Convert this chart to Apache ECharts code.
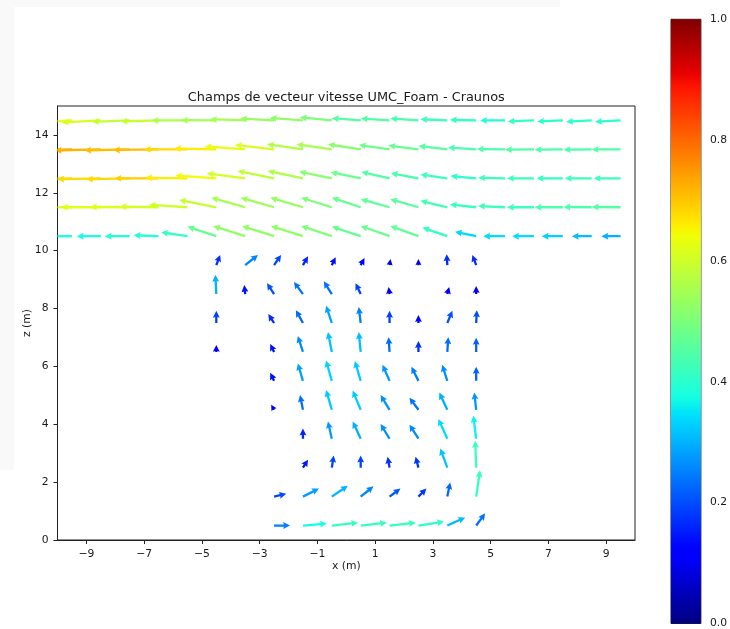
<!DOCTYPE html>
<html>
<head>
<meta charset="utf-8">
<script src="https://cdn.jsdelivr.net/npm/echarts@6/dist/echarts.min.js"></script>
<style>html,body{margin:0;padding:0;background:#fff;}#c{width:730px;height:629px;}</style>
</head>
<body>
<div id="c"></div>
<script>
// ---- tick labels ----
const xTicks = [-9, -7, -5, -3, -1, 1, 3, 5, 7, 9];
const zTicks = [0, 2, 4, 6, 8, 10, 12, 14];
const cbTicks = [0, 0.2, 0.4, 0.6, 0.8, 1.0];

// ---- upper region grid (x columns, z rows) ----
const topX = [-9.5,-8.5,-7.5,-6.5,-5.5,-4.5,-3.5,-2.5,-1.5,-0.5,0.5,1.5,2.5,3.5,4.5,5.5,6.5,7.5,8.5,9.5];
const topZ = [14.5, 13.5, 12.5, 11.5, 10.5];
const u145 = [-0.63,-0.61,-0.59,-0.59,-0.56,-0.55,-0.55,-0.53,-0.52,-0.50,-0.45,-0.45,-0.44,-0.42,-0.41,-0.39,-0.41,-0.40,-0.40,-0.40];
const v145 = [-0.03,-0.03,-0.02,-0.015,0,0.005,0.02,0.03,0.04,0.05,0.035,0.03,0.03,0.02,0.01,0,-0.015,-0.015,-0.02,-0.02];
const u135 = [-0.73,-0.72,-0.71,-0.71,-0.68,-0.66,-0.63,-0.61,-0.56,-0.55,-0.51,-0.48,-0.47,-0.45,-0.44,-0.44,-0.45,-0.44,-0.44,-0.45];
const v135 = [-0.015,-0.015,-0.015,-0.01,0,0.015,0.045,0.07,0.08,0.08,0.08,0.07,0.06,0.055,0.03,0.005,-0.005,-0.005,-0.005,0];
const u125 = [-0.68,-0.68,-0.68,-0.69,-0.66,-0.64,-0.60,-0.57,-0.55,-0.51,-0.47,-0.44,-0.43,-0.42,-0.40,-0.42,-0.42,-0.41,-0.42,-0.42];
const v125 = [-0.015,-0.015,-0.015,0,0.01,0.045,0.08,0.115,0.115,0.105,0.095,0.10,0.08,0.06,0.035,0.01,0,0,0,0];
const u115 = [-0.62,-0.62,-0.62,-0.61,-0.60,-0.58,-0.53,-0.52,-0.51,-0.48,-0.45,-0.45,-0.44,-0.42,-0.41,-0.42,-0.42,-0.44,-0.44,-0.45];
const v115 = [0,0,0.005,0.01,0.04,0.115,0.15,0.15,0.15,0.15,0.15,0.125,0.125,0.10,0.045,0.02,0,0,0.005,0.005];
const u105 = [-0.375,-0.375,-0.39,-0.39,-0.41,-0.45,-0.50,-0.50,-0.50,-0.48,-0.45,-0.45,-0.44,-0.39,-0.33,-0.34,-0.34,-0.33,-0.31,-0.30];
const v105 = [0,0,0,0.015,0.06,0.15,0.16,0.16,0.16,0.16,0.15,0.16,0.16,0.135,0.07,0,0,0,0,0];
const topU = [u145, u135, u125, u115, u105];
const topV = [v145, v135, v125, v115, v105];

// ---- lower region grid ----
const lowX = [-4.5,-3.5,-2.5,-1.5,-0.5,0.5,1.5,2.5,3.5,4.5];
const lowZ = [9.5, 8.5, 7.5, 6.5, 5.5, 4.5, 3.5, 2.5, 1.5, 0.5];
const u95 = [0.06,0.20,0.11,0.08,0.06,0.06,0.015,0,-0.01,-0.06];
const v95 = [0.16,0.16,0.16,0.14,0.125,0.11,0.095,0.095,0.17,0.16];
const u85 = [-0.015,-0.015,-0.11,-0.14,-0.125,-0.08,-0.015,null,0.03,0];
const v85 = [0.30,0.14,0.17,0.19,0.20,0.17,0.11,null,0.11,0.125];
const u75 = [0,null,-0.09,-0.11,-0.09,-0.03,0,0,0.08,0.01];
const v75 = [0.19,null,0.14,0.20,0.27,0.25,0.19,0.125,0.19,0.20];
const u65 = [0,null,-0.06,-0.08,-0.06,-0.03,-0.015,0,0.015,0];
const v65 = [0.11,null,0.125,0.25,0.31,0.31,0.23,0.17,0.23,0.22];
const u55 = [null,null,-0.06,-0.08,-0.09,-0.09,-0.11,-0.11,-0.08,0];
const v55 = [null,null,0.125,0.27,0.32,0.31,0.25,0.22,0.25,0.22];
const u45 = [null,null,-0.045,-0.045,-0.09,-0.125,-0.14,-0.14,-0.125,-0.03];
const v45 = [null,null,0.08,0.23,0.31,0.30,0.23,0.19,0.27,0.27];
const u35 = [null,null,null,0,-0.06,-0.125,-0.14,-0.14,-0.14,-0.045];
const v35 = [null,null,null,0.16,0.27,0.27,0.23,0.22,0.31,0.36];
const u25 = [null,null,null,0.08,0.03,0,-0.03,-0.045,-0.11,-0.015];
const v25 = [null,null,null,0.125,0.19,0.19,0.17,0.17,0.30,0.42];
const u15 = [null,null,0.19,0.25,0.25,0.20,0.17,0.125,0.045,0.06];
const v15 = [null,null,0.045,0.125,0.17,0.16,0.125,0.125,0.22,0.41];
const u05 = [null,null,0.25,0.375,0.41,0.41,0.41,0.40,0.28,0.14];
const v05 = [null,null,0,0.03,0.045,0.045,0.045,0.06,0.125,0.19];
const lowU = [u95, u85, u75, u65, u55, u45, u35, u25, u15, u05];
const lowV = [v95, v85, v75, v65, v55, v45, v35, v25, v15, v05];

// ---- jet colormap ----
function interp(pts, t) {
  for (let i = 1; i < pts.length; i++) {
    if (t <= pts[i][0]) {
      const a = pts[i-1], b = pts[i];
      return a[1] + (b[1]-a[1]) * (t - a[0]) / (b[0]-a[0]);
    }
  }
  return pts[pts.length-1][1];
}
function jet(t) {
  t = Math.max(0, Math.min(1, t));
  const r = interp([[0,0],[0.35,0],[0.66,1],[0.89,1],[1,0.5]], t);
  const g = interp([[0,0],[0.125,0],[0.375,1],[0.64,1],[0.91,0],[1,0]], t);
  const b = interp([[0,0.5],[0.11,1],[0.34,1],[0.65,0],[1,0]], t);
  return 'rgb(' + Math.round(r*255) + ',' + Math.round(g*255) + ',' + Math.round(b*255) + ')';
}

// ---- build arrow data ----
const arrows = [];
function addGrid(xs, zs, U, V) {
  zs.forEach((z, i) => {
    xs.forEach((x, j) => {
      const u = U[i][j], v = V[i][j];
      if (u === null || v === null) return;
      arrows.push([x, z, u, v, Math.hypot(u, v)]);
    });
  });
}
addGrid(topX, topZ, topU, topV);
addGrid(lowX, lowZ, lowU, lowV);

// quiver style (pixels)
const K = 64;          // px per m/s
const SW = 2.3, HW = 6.9, HL = 6.9, HAL = 6.2;

function clipPoly(pts, x0, y0, x1, y1) {
  const edges = [
    p => p[0] >= x0, p => p[0] <= x1, p => p[1] >= y0, p => p[1] <= y1
  ];
  const isect = [
    (a, b) => { const t = (x0 - a[0])/(b[0]-a[0]); return [x0, a[1] + t*(b[1]-a[1])]; },
    (a, b) => { const t = (x1 - a[0])/(b[0]-a[0]); return [x1, a[1] + t*(b[1]-a[1])]; },
    (a, b) => { const t = (y0 - a[1])/(b[1]-a[1]); return [a[0] + t*(b[0]-a[0]), y0]; },
    (a, b) => { const t = (y1 - a[1])/(b[1]-a[1]); return [a[0] + t*(b[0]-a[0]), y1]; }
  ];
  let out = pts;
  for (let e = 0; e < 4; e++) {
    const inp = out; out = [];
    if (!inp.length) break;
    for (let i = 0; i < inp.length; i++) {
      const cur = inp[i], prev = inp[(i + inp.length - 1) % inp.length];
      const ci = edges[e](cur), pi = edges[e](prev);
      if (ci) { if (!pi) out.push(isect[e](prev, cur)); out.push(cur); }
      else if (pi) out.push(isect[e](prev, cur));
    }
  }
  return out;
}

function renderArrow(params, api) {
  const x = api.value(0), z = api.value(1), u = api.value(2), v = api.value(3), m = api.value(4);
  const p0 = api.coord([x, z]);
  const dx = u * K, dy = -v * K;
  const L = Math.hypot(dx, dy);
  if (L < 0.3) return null;
  const s = L < HL ? L / HL : 1;
  const w = SW * s, hw = HW * s, hl = HL * s, hal = HAL * s;
  const ux = dx / L, uy = dy / L, nx = -uy, ny = ux;
  const P = (a, b) => [p0[0] + a*ux + b*nx, p0[1] + a*uy + b*ny];
  let pts = [P(0, -w/2), P(L-hal, -w/2), P(L-hl, -hw/2), P(L, 0), P(L-hl, hw/2), P(L-hal, w/2), P(0, w/2)];
  const cs = params.coordSys;
  pts = clipPoly(pts, cs.x, cs.y, cs.x + cs.width, cs.y + cs.height);
  if (pts.length < 3) return null;
  return { type: 'polygon', shape: { points: pts }, style: { fill: jet(m), stroke: null } };
}

const stops = [];
for (let i = 0; i <= 100; i++) stops.push({ offset: i/100, color: jet(i/100) });

function renderBar(params, api) {
  const a = api.coord([0, 1]), b = api.coord([1, 0]);
  return {
    type: 'rect',
    shape: { x: a[0], y: a[1], width: b[0]-a[0], height: b[1]-a[1] },
    style: { fill: new echarts.graphic.LinearGradient(0, 1, 0, 0, stops) }
  };
}

const FONT = 'DejaVu Sans';
const TXT = '#1a1a1a';
const minus = v => (v < 0 ? '\u2212' + Math.abs(v) : String(v));

const chart = echarts.init(document.getElementById('c'), null, { renderer: 'canvas' });
chart.setOption({
  animation: false,
  backgroundColor: '#ffffff',
  graphic: [
    { type: 'rect', z: -10, shape: { x: 0, y: 0, width: 14, height: 470 }, style: { fill: '#f9f9f9' }, silent: true },
    { type: 'rect', z: -10, shape: { x: 14, y: 0, width: 546, height: 7 }, style: { fill: '#f9f9f9' }, silent: true },
    { type: 'text', x: 346.3, y: 104, style: {
      text: 'Champs de vecteur vitesse UMC_Foam - Craunos', font: '12.9px "DejaVu Sans"',
      fill: TXT, textAlign: 'center', textVerticalAlign: 'bottom' } }
  ],
  grid: [
    { left: 57.5, top: 106, width: 577.5, height: 434, show: true, borderColor: '#222', borderWidth: 1, backgroundColor: 'transparent' },
    { left: 671, top: 19.3, width: 31.3, height: 606.7, show: true, borderColor: '#222', borderWidth: 1, backgroundColor: 'transparent' }
  ],
  xAxis: [
    { gridIndex: 0, type: 'value', min: -10, max: 10,
      name: 'x (m)', nameLocation: 'middle', nameGap: 21, nameMoveOverlap: false,
      nameTextStyle: { fontFamily: FONT, fontSize: 10.75, color: TXT },
      axisLine: { show: true, onZero: false, lineStyle: { color: '#222', width: 1 } },
      axisTick: { show: true, length: 4, customValues: xTicks, lineStyle: { color: '#222', width: 1 } },
      axisLabel: { customValues: xTicks, margin: 9, formatter: minus, fontFamily: FONT, fontSize: 10.75, color: TXT },
      splitLine: { show: false } },
    { gridIndex: 1, type: 'value', min: 0, max: 1, show: false }
  ],
  yAxis: [
    { gridIndex: 0, type: 'value', min: 0, max: 15,
      name: 'z (m)', nameLocation: 'middle', nameGap: 25, nameMoveOverlap: false,
      nameTextStyle: { fontFamily: FONT, fontSize: 10.75, color: TXT },
      axisLine: { show: true, onZero: false, lineStyle: { color: '#222', width: 1 } },
      axisTick: { show: true, length: 4, customValues: zTicks, lineStyle: { color: '#222', width: 1 } },
      axisLabel: { customValues: zTicks, margin: 9, fontFamily: FONT, fontSize: 10.75, color: TXT },
      splitLine: { show: false } },
    { gridIndex: 1, type: 'value', min: 0, max: 1, position: 'right',
      axisLine: { show: true, lineStyle: { color: '#222', width: 1 } },
      axisTick: { show: true, length: 4, customValues: cbTicks, lineStyle: { color: '#222', width: 1 } },
      axisLabel: { customValues: cbTicks, margin: 9, formatter: v => v.toFixed(1), fontFamily: FONT, fontSize: 10.75, color: TXT },
      splitLine: { show: false } }
  ],
  series: [
    { type: 'custom', xAxisIndex: 1, yAxisIndex: 1, data: [[0, 0]], renderItem: renderBar, silent: true, z: 1 },
    { type: 'custom', xAxisIndex: 0, yAxisIndex: 0, data: arrows, encode: { x: 0, y: 1 },
      dimensions: ['x', 'z', 'u', 'v', 'mag'], renderItem: renderArrow, silent: true, z: 2 }
  ]
});
</script>
</body>
</html>
